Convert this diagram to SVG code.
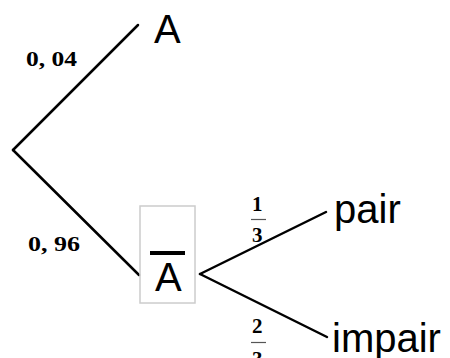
<svg xmlns="http://www.w3.org/2000/svg" width="450" height="358" viewBox="0 0 450 358">
<style>
.edge{stroke:#000;stroke-width:2.5;fill:none;stroke-linecap:round}
.lbl{font-family:"Liberation Sans",Arial,sans-serif;font-size:40px;fill:#000}
.num{font-family:"Liberation Serif","Times New Roman",serif;font-weight:bold;font-size:21px;fill:#000}
.bar{stroke:#555;stroke-width:1.2}
</style>
<rect width="450" height="358" fill="#fff"/>
<g id="connectors">
<path class="edge" d="M13,150 L138,25"/>
<path class="edge" d="M13,150 L139,275"/>
<path class="edge" d="M200,274 L326,212"/>
<path class="edge" d="M200,274 L327,337"/>
</g>
<g id="edge-labels">
<text class="num" x="26" y="66" textLength="51" lengthAdjust="spacingAndGlyphs">0, 04</text>
<text class="num" x="28" y="251" textLength="52" lengthAdjust="spacingAndGlyphs">0, 96</text>
<text class="num" x="252" y="211">1</text>
<line class="bar" x1="251" y1="219.5" x2="266" y2="219.5"/>
<text class="num" x="252" y="242">3</text>
<text class="num" x="252" y="333">2</text>
<line class="bar" x1="251" y1="342.5" x2="266" y2="342.5"/>
<text class="num" x="252" y="366">3</text>
</g>
<g id="node-A">
<text class="lbl" x="154" y="43">A</text>
</g>
<g id="node-Abar">
<rect x="140" y="206" width="55" height="97" fill="none" stroke="#cccccc" stroke-width="1.5"/>
<rect x="150" y="251" width="35" height="4" fill="#000"/>
<text class="lbl" x="155" y="291">A</text>
</g>
<g id="node-pair">
<text class="lbl" x="334" y="223">pair</text>
</g>
<g id="node-impair">
<text class="lbl" x="332" y="352">impair</text>
</g>
</svg>
